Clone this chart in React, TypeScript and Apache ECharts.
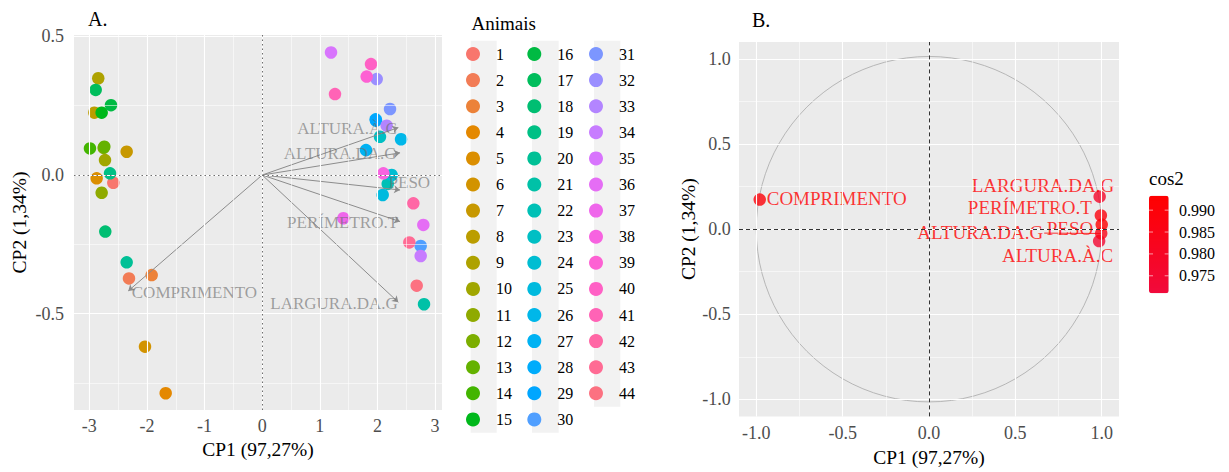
import React, { useEffect, useRef } from 'react';
import * as echarts from 'echarts';

// ---------------- DATA ----------------
const animalIds = [
  '1', '2', '3', '4', '5', '6', '7', '8', '9', '10', '11', '12', '13', '14', '15',
  '16', '17', '18', '19', '20', '21', '22', '23', '24', '25', '26', '27', '28', '29', '30',
  '31', '32', '33', '34', '35', '36', '37', '38', '39', '40', '41', '42', '43', '44',
];
const pc1Scores = [
  -2.584, -2.312, -1.918, -1.675, -2.873, -2.034, -2.352, -2.913, -2.845, -2.728,
  -2.786, -2.752, -2.74, -2.989, -2.786, -2.624, -2.89, -2.723, -2.641, -2.352,
  2.808, 2.178, 2.044, 2.247, 2.091, 2.409, 1.801, 1.969, 1.975, 2.75,
  2.218, 1.987, 2.16, 2.75, 1.194, 2.796, 1.408, 2.102, 1.813, 1.888,
  1.263, 2.623, 2.553, 2.681,
];
const pc2Scores = [
  -0.028, -0.373, -0.361, -0.787, -0.012, -0.619, 0.084, 0.225, 0.349, 0.054,
  -0.064, 0.098, 0.102, 0.096, 0.225, 0.252, 0.307, -0.204, 0.006, -0.315,
  -0.466, -0.032, 0.138, 0.0, -0.072, 0.129, 0.09, 0.201, 0.196, -0.256,
  0.238, 0.346, 0.178, -0.292, 0.442, -0.18, -0.156, 0.006, 0.355, 0.4,
  0.292, -0.102, -0.243, -0.399,
];

const varNames = ['ALTURA.À.C', 'ALTURA.DA.G', 'PESO', 'PERÍMETRO.T', 'LARGURA.DA.G', 'COMPRIMENTO'];
const arrowX = [2.362, 2.392, 2.392, 2.392, 2.362, -2.324];
const arrowY = [0.171, 0.08, -0.054, -0.168, -0.459, -0.418];

const corX = [0.985, 0.997, 1.0, 0.995, 0.988, -0.98];
const corY = [-0.07, -0.025, 0.027, 0.081, 0.191, 0.174];
const cos2 = [0.975, 0.985, 0.993, 0.988, 0.978, 0.99];
// ggrepel segment from ALTURA.DA.G label to its point
const segmentFrom = [0.667, -0.023];

const cos2Min = 0.971;
const cos2Max = 0.9933;
const cos2Ticks = [0.99, 0.985, 0.98, 0.975];

const ticksAX = [-3, -2, -1, 0, 1, 2, 3];
const minorAX = [-2.5, -1.5, -0.5, 0.5, 1.5, 2.5];
const ticksAY = [-0.5, 0, 0.5];
const minorAY = [-0.75, -0.25, 0.25];
const ticksB = [-1, -0.5, 0, 0.5, 1];
const minorB = [-0.75, -0.25, 0.25, 0.75];

// ---------------- STYLE ----------------
const FONT = "'Liberation Serif', 'Times New Roman', Times, serif";

function hcl(h: number, c: number, l: number): string {
  const WY = 100, Wu = 0.1978398, Wv = 0.4683363;
  const hr = (h * Math.PI) / 180;
  const U = c * Math.cos(hr), V = c * Math.sin(hr);
  const Y = WY * (l > 7.999592 ? Math.pow((l + 16) / 116, 3) : l / 903.3);
  const u = U / (13 * l) + Wu;
  const v = V / (13 * l) + Wv;
  const X = (9.0 * Y * u) / (4 * v);
  const Z = -X / 3 - 5 * Y + (3 * Y) / v;
  const gam = (t: number) => (t > 0.00304 ? 1.055 * Math.pow(t, 1 / 2.4) - 0.055 : 12.92 * t);
  const r = gam((3.240479 * X - 1.53715 * Y - 0.498535 * Z) / WY);
  const g = gam((-0.969256 * X + 1.875992 * Y + 0.041556 * Z) / WY);
  const b = gam((0.055648 * X - 0.204043 * Y + 1.057311 * Z) / WY);
  const to = (t: number) => Math.round(255 * Math.min(1, Math.max(0, t))).toString(16).padStart(2, '0');
  return '#' + to(r) + to(g) + to(b);
}
const palette = animalIds.map((_, i) => hcl(15 + (i * 360) / animalIds.length, 100, 65));

const arrowLabelStyles: any[] = [
  { position: 'left', distance: 0, offset: [-1, 1] },
  { position: 'left', distance: 0, offset: [-3, 1] },
  { position: 'right', distance: 0, offset: [-12, -7] },
  { position: 'left', distance: 0, offset: [-1.5, 1] },
  { position: 'left', distance: 0, offset: [0, 1] },
  { position: 'right', distance: 0, offset: [3, 2] },
];
const corLabelStyles: any[] = [
  { align: 'right', offset: [14, 14] },
  { align: 'right', offset: [-58, -1] },
  { align: 'right', offset: [-8.5, 3.5] },
  { align: 'right', offset: [-9, -8.4] },
  { align: 'right', offset: [14.6, -11] },
  { align: 'left', offset: [7, -0.7] },
];

function gridLines(xMajor: number[], xMinor: number[], yMajor: number[], yMinor: number[], zero: any) {
  const major = { color: '#FFFFFF', width: 1.1, type: 'solid' };
  const minor = { color: '#FFFFFF', width: 0.55, type: 'solid' };
  return [
    ...xMinor.map((v) => ({ xAxis: v, lineStyle: minor })),
    ...yMinor.map((v) => ({ yAxis: v, lineStyle: minor })),
    ...xMajor.map((v) => ({ xAxis: v, lineStyle: major })),
    ...yMajor.map((v) => ({ yAxis: v, lineStyle: major })),
    { xAxis: 0, lineStyle: zero },
    { yAxis: 0, lineStyle: zero },
  ];
}

function valueAxis(opts: any) {
  return {
    type: 'value',
    gridIndex: opts.grid,
    min: opts.min,
    max: opts.max,
    axisLine: { show: false },
    splitLine: { show: false },
    axisTick: { show: true, customValues: opts.ticks, length: 4, lineStyle: { color: '#333333', width: 1 } },
    axisLabel: {
      customValues: opts.ticks,
      formatter: opts.fmt,
      margin: opts.margin,
      fontFamily: FONT,
      fontSize: 18,
      color: '#4D4D4D',
    },
    name: opts.name,
    nameLocation: 'middle',
    nameGap: opts.nameGap,
    nameTextStyle: { fontFamily: FONT, fontSize: 19.5, color: '#000000' },
  };
}

function buildOption() {
  const series: any[] = [];
  // panel A grid lines
  series.push({
    type: 'line', xAxisIndex: 0, yAxisIndex: 0, data: [], silent: true, z: 1,
    markLine: {
      silent: true, symbol: ['none', 'none'], label: { show: false }, emphasis: { disabled: true },
      data: gridLines(ticksAX, minorAX, ticksAY, minorAY, { color: '#6E6E6E', width: 1, type: [1.5, 3] }),
    },
  });
  // panel B grid lines
  series.push({
    type: 'line', xAxisIndex: 1, yAxisIndex: 1, data: [], silent: true, z: 1,
    markLine: {
      silent: true, symbol: ['none', 'none'], label: { show: false }, emphasis: { disabled: true },
      data: gridLines(ticksB, minorB, ticksB, minorB, { color: '#333333', width: 1, type: [4, 3] }),
    },
  });
  // correlation circle
  series.push({
    type: 'custom', xAxisIndex: 1, yAxisIndex: 1, silent: true, z: 1.5,
    data: [[0, 0]],
    renderItem: (_p: any, api: any) => {
      const c = api.coord([0, 0]);
      const e = api.coord([1, 0]);
      return {
        type: 'circle',
        shape: { cx: c[0], cy: c[1], r: e[0] - c[0] },
        style: { fill: 'none', stroke: '#A8A8A8', lineWidth: 0.8 },
      };
    },
  });
  // individuals
  animalIds.forEach((id, i) => {
    series.push({
      type: 'scatter', name: id, xAxisIndex: 0, yAxisIndex: 0, silent: true, z: 2,
      symbol: 'circle', symbolSize: 12.5,
      itemStyle: { color: palette[i], opacity: 1 },
      data: [[pc1Scores[i], pc2Scores[i]]],
    });
  });
  // variable arrows
  series.push({
    type: 'lines', coordinateSystem: 'cartesian2d', xAxisIndex: 0, yAxisIndex: 0, silent: true, z: 3,
    symbol: ['none', 'arrow'], symbolSize: 6,
    lineStyle: { color: '#8C8C8C', width: 1, opacity: 1, curveness: 0 },
    data: varNames.map((_, i) => ({ coords: [[0, 0], [arrowX[i], arrowY[i]]] })),
  });
  // arrow labels
  series.push({
    type: 'scatter', xAxisIndex: 0, yAxisIndex: 0, silent: true, z: 4,
    symbolSize: 1, itemStyle: { color: 'rgba(0,0,0,0)' },
    label: { show: true, formatter: '{b}', fontFamily: FONT, fontSize: 17, color: 'rgba(110,110,110,0.78)' },
    data: varNames.map((n, i) => ({ name: n, value: [arrowX[i], arrowY[i]], label: arrowLabelStyles[i] })),
  });
  // repel segment (panel B)
  series.push({
    type: 'lines', coordinateSystem: 'cartesian2d', xAxisIndex: 1, yAxisIndex: 1, silent: true, z: 3,
    symbol: ['none', 'none'],
    lineStyle: { color: '#FF0000', width: 0.8, opacity: 1, curveness: 0 },
    data: [{ coords: [segmentFrom, [corX[1], corY[1]]] }],
  });
  // variables (panel B)
  const varSeriesIndex = series.length;
  series.push({
    type: 'scatter', xAxisIndex: 1, yAxisIndex: 1, silent: true, z: 4,
    symbol: 'circle', symbolSize: 12.5,
    label: { show: true, position: 'inside', formatter: '{b}', fontFamily: FONT, fontSize: 19, color: '#FF0000' },
    data: varNames.map((n, i) => ({ name: n, value: [corX[i], corY[i], cos2[i]], label: corLabelStyles[i] })),
  });

  const legendCols = [animalIds.slice(0, 15), animalIds.slice(15, 30), animalIds.slice(30)];
  const legendLeft = [466, 527.3, 589];
  const legend = legendCols.map((d, c) => ({
    data: d,
    orient: 'vertical',
    left: legendLeft[c],
    top: 46,
    padding: 0,
    itemWidth: 36,
    itemHeight: 14,
    itemGap: 10.1,
    icon: 'circle',
    selectedMode: false,
    textStyle: { fontFamily: FONT, fontSize: 16, color: '#000000' },
  }));

  const cbTop = 195.7, cbH = 97.6, cbLeft = 1149, cbW = 19.7;
  const cbY = (v: number) => cbTop + ((cos2Max - v) / (cos2Max - cos2Min)) * cbH;

  const graphic: any[] = [
    { type: 'rect', z: 0, shape: { x: 470.7, y: 40.7, width: 26, height: 392 }, style: { fill: '#F2F2F2' } },
    { type: 'rect', z: 0, shape: { x: 532, y: 40.7, width: 26.7, height: 392 }, style: { fill: '#F2F2F2' } },
    { type: 'rect', z: 0, shape: { x: 594, y: 40.7, width: 26.3, height: 366 }, style: { fill: '#F2F2F2' } },
    { type: 'text', z: 10, x: 88, y: 19, style: { text: 'A.', fontFamily: FONT, fontSize: 20, fill: '#000', verticalAlign: 'middle' } },
    { type: 'text', z: 10, x: 752, y: 20, style: { text: 'B.', fontFamily: FONT, fontSize: 20, fill: '#000', verticalAlign: 'middle' } },
    { type: 'text', z: 10, x: 471.5, y: 23.3, style: { text: 'Animais', fontFamily: FONT, fontSize: 19, fill: '#000', verticalAlign: 'middle' } },
    { type: 'text', z: 10, x: 1149, y: 178.3, style: { text: 'cos2', fontFamily: FONT, fontSize: 19, fill: '#000', verticalAlign: 'middle' } },
    ...cos2Ticks.map((v) => ({
      type: 'text', z: 10, x: 1179, y: cbY(v),
      style: { text: v.toFixed(3), fontFamily: FONT, fontSize: 16, fill: '#000', verticalAlign: 'middle' },
    })),
    ...cos2Ticks.map((v) => ({
      type: 'line', z: 10, shape: { x1: cbLeft, y1: cbY(v), x2: cbLeft + 4, y2: cbY(v) },
      style: { stroke: 'rgba(255,255,255,0.6)', lineWidth: 1 },
    })),
    ...cos2Ticks.map((v) => ({
      type: 'line', z: 10, shape: { x1: cbLeft + cbW - 4, y1: cbY(v), x2: cbLeft + cbW, y2: cbY(v) },
      style: { stroke: 'rgba(255,255,255,0.6)', lineWidth: 1 },
    })),
  ];

  return {
    animation: false,
    backgroundColor: '#FFFFFF',
    grid: [
      { left: 74, top: 35, width: 368, height: 375, show: true, backgroundColor: '#EBEBEB', borderWidth: 0 },
      { left: 739, top: 42, width: 380, height: 378, show: true, backgroundColor: '#EBEBEB', borderWidth: 0 },
    ],
    xAxis: [
      valueAxis({ grid: 0, min: -3.266, max: 3.12, ticks: ticksAX, fmt: (v: number) => String(v), margin: 6.5, name: 'CP1 (97,27%)', nameGap: 20 }),
      valueAxis({ grid: 1, min: -1.1, max: 1.1, ticks: ticksB, fmt: (v: number) => v.toFixed(1), margin: 7.7, name: 'CP1 (97,27%)', nameGap: 30.5 }),
    ],
    yAxis: [
      valueAxis({ grid: 0, min: -0.8475, max: 0.505, ticks: ticksAY, fmt: (v: number) => v.toFixed(1), margin: 10, name: 'CP2 (1,34%)', nameGap: 45 }),
      valueAxis({ grid: 1, min: -1.1, max: 1.1, ticks: ticksB, fmt: (v: number) => v.toFixed(1), margin: 8.3, name: 'CP2 (1,34%)', nameGap: 41 }),
    ],
    legend,
    visualMap: {
      type: 'continuous',
      seriesIndex: varSeriesIndex,
      dimension: 2,
      min: cos2Min,
      max: cos2Max,
      calculable: false,
      hoverLink: false,
      orient: 'vertical',
      left: cbLeft,
      top: cbTop,
      padding: 0,
      itemWidth: cbW,
      itemHeight: cbH,
      inRange: { color: ['#F10A3C', '#FF0000'] },
    },
    graphic,
    series,
  };
}

export default function App() {
  const ref = useRef<HTMLDivElement>(null);
  useEffect(() => {
    if (!ref.current) return;
    const chart = echarts.init(ref.current, null, { renderer: 'svg' });
    chart.setOption(buildOption() as any);
    return () => chart.dispose();
  }, []);
  return <div ref={ref} style={{ position: 'absolute', left: 0, top: 0, width: 1229, height: 472 }} />;
}
